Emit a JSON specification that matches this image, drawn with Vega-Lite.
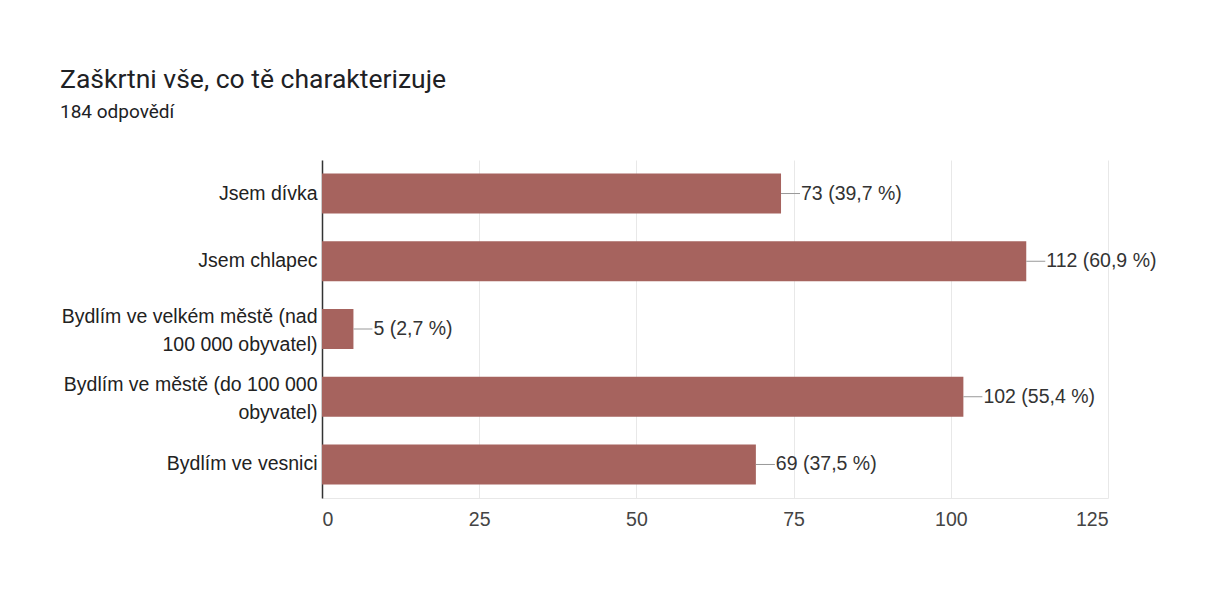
{
  "$schema": "https://vega.github.io/schema/vega-lite/v6.json",
  "width": 786,
  "height": 338,
  "autosize": {"type": "none"},
  "padding": {"left": 322, "top": 160, "right": 118, "bottom": 101},
  "background": "white",
  "view": {"stroke": null},
  "title": {
    "text": "Zaškrtni vše, co tě charakterizuje",
    "subtitle": "184 odpovědí",
    "anchor": "start",
    "frame": "group",
    "dx": -262,
    "offset": 38,
    "font": "Roboto",
    "fontSize": 26.5,
    "fontWeight": "normal",
    "color": "#202124",
    "subtitleFont": "Roboto",
    "subtitleFontSize": 19,
    "subtitleColor": "#202124",
    "subtitlePadding": 10
  },
  "data": {
    "values": [
      {"option": "Jsem dívka", "count": 73, "label": "73 (39,7 %)"},
      {"option": "Jsem chlapec", "count": 112, "label": "112 (60,9 %)"},
      {"option": "Bydlím ve velkém městě (nad|100 000 obyvatel)", "count": 5, "label": "5 (2,7 %)"},
      {"option": "Bydlím ve městě (do 100 000|obyvatel)", "count": 102, "label": "102 (55,4 %)"},
      {"option": "Bydlím ve vesnici", "count": 69, "label": "69 (37,5 %)"}
    ]
  },
  "encoding": {
    "y": {
      "field": "option",
      "type": "nominal",
      "sort": null,
      "scale": {"paddingInner": 0.41, "paddingOuter": 0.2},
      "axis": {
        "title": null,
        "labelExpr": "split(datum.label, '|')",
        "labelOffset": {"condition": {"test": "indexof(datum.value, '|') >= 0", "value": -12}, "value": 0},
        "labelFont": "Liberation Sans",
        "labelFontSize": 19.5,
        "labelColor": "#222222",
        "labelLineHeight": 28,
        "labelPadding": 5,
        "labelLimit": 400,
        "ticks": false,
        "domain": true,
        "domainColor": "#333333",
        "domainWidth": 1.5,
        "grid": false
      }
    }
  },
  "layer": [
    {
      "mark": {"type": "bar", "color": "#a6635e"},
      "encoding": {
        "x": {
          "field": "count",
          "type": "quantitative",
          "scale": {"domain": [0, 125], "nice": false},
          "axis": {
            "title": null,
            "values": [0, 25, 50, 75, 100, 125],
            "grid": true,
            "gridColor": "#e8e8e8",
            "domain": true,
            "domainColor": "#e8e8e8",
            "ticks": false,
            "labelPadding": 12,
            "labelFont": "Liberation Sans",
            "labelFontSize": 19.5,
            "labelColor": "#444444"
          }
        }
      }
    },
    {
      "mark": {"type": "rule", "color": "#999999", "strokeWidth": 1, "x2Offset": 19},
      "encoding": {
        "x": {"field": "count", "type": "quantitative"},
        "x2": {"field": "count"}
      }
    },
    {
      "mark": {"type": "text", "align": "left", "baseline": "middle", "dx": 20, "font": "Liberation Sans", "fontSize": 19.5, "color": "#333333"},
      "encoding": {
        "x": {"field": "count", "type": "quantitative"},
        "text": {"field": "label"}
      }
    }
  ]
}
